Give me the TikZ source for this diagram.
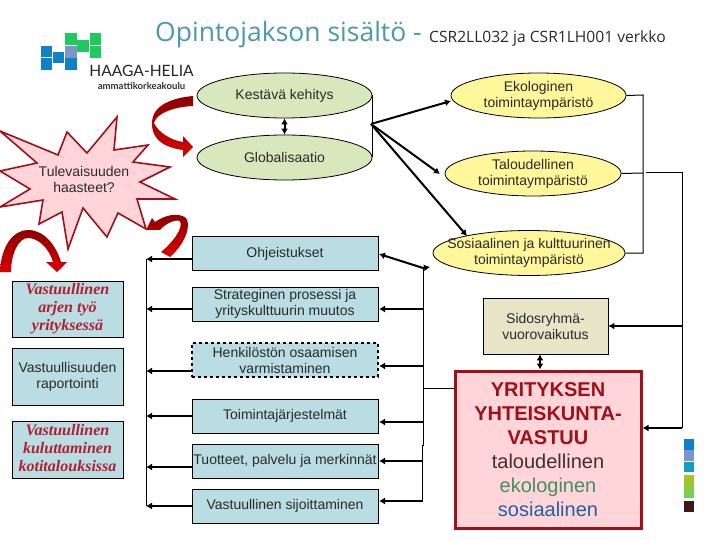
\documentclass[tikz,border=0pt]{standalone}
\usepackage{fontspec}
\setmainfont{Liberation Sans}
\newfontfamily\titlefont{Open Sans}
\newfontfamily\logofont{Lato}
\newfontfamily\handfont{Liberation Serif}
\usetikzlibrary{shapes.geometric,arrows.meta}
\definecolor{boxblue}{HTML}{B9DDE2}
\definecolor{ellgreen}{HTML}{D8E8BC}
\definecolor{ellyellow}{HTML}{FFF79A}
\definecolor{sandbox}{HTML}{E8E4C8}
\definecolor{redbox}{HTML}{FFD5DA}
\definecolor{darkred}{HTML}{A01018}
\definecolor{handred}{HTML}{B02030}
\definecolor{titleteal}{HTML}{4A9AAB}
\definecolor{textgrey}{HTML}{2A2A2A}
\definecolor{logoblue}{HTML}{1080C8}
\definecolor{logomix}{HTML}{7B96C8}
\definecolor{logogreen}{HTML}{20C860}
\definecolor{barteal}{HTML}{10A0B8}
\definecolor{bardark}{HTML}{401818}
\definecolor{baryellow}{HTML}{B0C020}
\definecolor{bargreen}{HTML}{70D060}
\definecolor{txtbrown}{HTML}{403030}
\definecolor{txtgreen}{HTML}{409060}
\definecolor{txtblue}{HTML}{2060A0}
\tikzset{
  x=1pt,y=-1pt,
  txt/.style={font=\fontsize{14}{16}\selectfont,text=textgrey,align=center},
  bluebox/.style={draw=black,line width=0.8pt,fill=boxblue,minimum width=186,minimum height=34,inner sep=0pt,txt},
  sidebox/.style={draw=black,line width=0.8pt,fill=boxblue,minimum width=111,inner sep=0pt,txt},
  hand/.style={font=\handfont\itshape\bfseries\fontsize{16}{18}\selectfont,text=handred},
  oval/.style={ellipse,draw=black,line width=0.8pt,inner sep=0pt,minimum height=45,txt,label={[txt]center:#1}},
  conn/.style={line width=2pt,-{Latex[length=6pt,width=7pt]}},
  twoway/.style={line width=2pt,{Latex[length=6pt,width=7pt]}-{Latex[length=6pt,width=7pt]}},
  thin line/.style={line width=1pt},
  blockarrow/.style={draw=none,top color=#1!65!black,bottom color=#1},
  logosq/.style={minimum size=11.5,inner sep=0pt,fill=#1},
}
\begin{document}
\begin{tikzpicture}
\useasboundingbox[fill=white] (0,0) rectangle (720,540);

% titles
\node[anchor=west,inner sep=0pt,text=titleteal,font=\titlefont\fontsize{26.5}{30}\selectfont] (title) at (155,35) {Opintojakson sisältö -};
\node[anchor=west,inner sep=0pt,text=textgrey,font=\titlefont\fontsize{15.6}{18}\selectfont] (subtitle) at (429,38) {CSR2LL032 ja CSR1LH001 verkko};

% logo
\node[logosq=logoblue] (l1) at (46.5,51.5) {};
\node[logosq=logoblue] (l2) at (58.5,57.5) {};
\node[logosq=logoblue] (l3) at (46.5,64) {};
\node[logosq=logoblue] (l4) at (71,64) {};
\node[logosq=logomix] (l5) at (71,52) {};
\node[logosq=logogreen] (l6) at (71,39) {};
\node[logosq=logogreen] (l7) at (83,46) {};
\node[logosq=logogreen] (l8) at (95.5,39) {};
\node[logosq=logogreen] (l9) at (95.5,52) {};
\node[anchor=center,inner sep=0pt,text=black!85,font=\logofont\fontsize{15.6}{18}\selectfont] (logoa) at (141.5,71) {HAAGA-HELIA};
\node[anchor=center,inner sep=0pt,text=black!80,font=\logofont\bfseries\fontsize{9.6}{11}\selectfont] (logob) at (141.5,86) {ammattikorkeakoulu};

% star
\path[draw=darkred,line width=1.6pt,fill=redbox] (117,117) -- (114,150) -- (148,145) -- (133,162) -- (170,167) -- (140,182) -- (175,199) -- (137,199) -- (146,229) -- (118,213) -- (107,237) -- (83,208) -- (68,249) -- (62,212) -- (39,224) -- (43,200) -- (0,207) -- (30,189) -- (0,171) -- (37,163) -- (0,131) -- (58,155) -- (67,132) -- (87,153) -- cycle;
\node[txt,inner sep=0pt] (star) at (84,179.5) {Tulevaisuuden\\haasteet?};

% block arrows
\path[blockarrow=red!85!black] (193,96) .. controls (172,98) and (153,105) .. (152,122) .. controls (151,136) and (160,147) .. (183,150) -- (183,157) -- (193,147) -- (183,136) -- (183,142) .. controls (170,140) and (158,132) .. (154,123) .. controls (156,114) and (172,107) .. (193,106) -- cycle;
\path[blockarrow=red!85!black] (146,230) -- (152,218) -- (155,222) .. controls (165,215) and (178,212) .. (186,218) .. controls (192,226) and (184,245) .. (170,257) -- (161,252) .. controls (172,243) and (184,228) .. (180,221) .. controls (175,219) and (165,224) .. (160,230) -- cycle;
\path[blockarrow=red!85!black] (0,272) .. controls (1,245) and (14,230) .. (28,230) .. controls (44,230) and (56,245) .. (61,262) -- (67,262) -- (57,272) -- (46,262) -- (53,262) .. controls (49,248) and (38,238) .. (28,238) .. controls (18,238) and (11,255) .. (11,272) -- cycle;

% ellipses
\node[oval={Kestävä kehitys},fill=ellgreen,minimum width=175] (kes) at (284.5,95.5) {};
\node[oval={Globalisaatio},fill=ellgreen,minimum width=175] (glo) at (284.5,157.5) {};
\node[oval={Ekologinen\\toimintaympäristö},fill=ellyellow,minimum width=175] (eko) at (538.5,95.5) {};
\node[oval={Taloudellinen\\toimintaympäristö},fill=ellyellow,minimum width=176] (tal) at (533,173.5) {};
\node[oval={Sosiaalinen ja kulttuurinen\\toimintaympäristö},fill=ellyellow,minimum width=192] (sos) at (529,253) {};

% centre boxes
\node[bluebox] (ohj) at (285,253.5) {Ohjeistukset};
\node[bluebox] (str) at (285,304) {Strateginen prosessi ja\\yrityskulttuurin muutos};
\node[bluebox,dashed,line width=1.3pt] (hen) at (285,360) {Henkilöstön osaamisen\\varmistaminen};
\node[bluebox] (toi) at (285,416) {Toimintajärjestelmät};
\node[bluebox] (tuo) at (285,461) {Tuotteet, palvelu ja merkinnät};
\node[bluebox] (vas) at (285,506) {Vastuullinen sijoittaminen};

% left boxes
\node[sidebox,minimum height=56,hand] (arj) at (67.5,309) {\begin{tabular}{@{}c@{}}Vastuullinen\\arjen työ\\yrityksessä\end{tabular}};
\node[sidebox,minimum height=57] (rap) at (67.5,376.5) {Vastuullisuuden\\raportointi};
\node[sidebox,minimum height=57,hand] (kul) at (67.5,449.5) {\begin{tabular}{@{}c@{}}Vastuullinen\\kuluttaminen\\kotitalouksissa\end{tabular}};

% right boxes
\node[draw=black,line width=0.8pt,fill=sandbox,minimum width=125,minimum height=56,inner sep=0pt,txt] (sid) at (545.5,326) {Sidosryhmä-\\vuorovaikutus};
\node[draw=darkred,line width=3pt,fill=redbox,minimum width=186,minimum height=157,inner sep=0pt,align=center,font=\fontsize{20}{24}\selectfont] (yri) at (548,449.5)
 {\textcolor{darkred}{\bfseries YRITYKSEN}\\\textcolor{darkred}{\bfseries YHTEISKUNTA-}\\\textcolor{darkred}{\bfseries VASTUU}\\\textcolor{txtbrown}{taloudellinen}\\\textcolor{txtgreen}{ekologinen}\\\textcolor{txtblue}{sosiaalinen}};

% colour bar
\fill[logoblue] (684,439) rectangle (694,450);
\fill[logomix] (684,450) rectangle (694,461);
\fill[barteal] (684,462) rectangle (694,472);
\shade[top color=baryellow,bottom color=bargreen] (684,475) rectangle (694,497);
\fill[bardark] (684,501) rectangle (694,512);

% coordinates of the connectors
\coordinate (kesr) at (372,95);
\coordinate (glor) at (372,157);
\coordinate (fan) at (371,124);
\coordinate (ekot) at (451,101);
\coordinate (talt) at (440,174);
\coordinate (sost) at (467,236);
\coordinate (brA) at (643,95);
\coordinate (brB) at (643,173);
\coordinate (brC) at (643,253);
\coordinate (outA) at (646,173);
\coordinate (outB) at (682,173);
\coordinate (outC) at (682,326);
\coordinate (outD) at (682,428);
\coordinate (busR) at (423,268);
\coordinate (busRtip) at (430,267);
\coordinate (busRm) at (423,388);
\coordinate (busRe) at (423,445);
\coordinate (busRf) at (422,445);
\coordinate (busRg) at (422,501);
\coordinate (busL1) at (146,259);
\coordinate (busL2) at (146,309);
\coordinate (busL3) at (146,371);
\coordinate (busL4) at (146,416);
\coordinate (busL5) at (146,467);
\coordinate (busL6) at (146,506);
\coordinate (ohjR) at (379,254);
\coordinate (inS) at (379,309);
\coordinate (inH) at (379,366);
\coordinate (inT) at (379,422);
\coordinate (inU) at (379,461);
\coordinate (inV) at (379,501);
\coordinate (dbl) at (540,360);

% left bus
\draw[thin line] (busL1) -- (busL6);
\draw[conn] (busL1 -| ohj.west) -- (busL1);
\draw[conn] (busL2 -| str.west) -- (busL2);
\draw[conn] (busL3 -| hen.west) -- (busL3);
\draw[conn] (busL4 -| toi.west) -- (busL4);
\draw[conn] (busL5 -| tuo.west) -- (busL5);
\draw[conn] (busL6 -| vas.west) -- (busL6);

% cylinder side and fan
\draw[thin line] (kesr) -- (glor);
\draw[twoway] (kes.south) -- (glo.north);
\draw[conn] (fan) -- (ekot);
\draw[conn] (fan) -- (talt);
\draw[conn] (fan) -- (sost);

% right bracket
\draw[thin line] (eko.east) -- (brA) -- (brC) -- (sos.east);
\draw[thin line] (tal.east) -- (brB);
\draw[thin line] (outA) -- (outB) -- (outD);
\draw[conn] (outC) -- (sid.east);
\draw[conn] (outD) -- (outD -| yri.east);

% right bus
\draw[thin line] (busR) -- (busRe) -- (busRf) -- (busRg);
\draw[thin line] (busRm) -- (busRm -| yri.west);
\draw[twoway] (ohjR) -- (busR) -- (busRtip);
\draw[conn] (inS -| busR) -- (inS);
\draw[conn] (inH -| busR) -- (inH);
\draw[conn] (inT -| busR) -- (inT);
\draw[conn] (inU -| busR) -- (inU);
\draw[conn] (inV -| busR) -- (inV);
\draw[twoway] (sid.south -| dbl) -- (yri.north -| dbl);
\end{tikzpicture}
\end{document}
